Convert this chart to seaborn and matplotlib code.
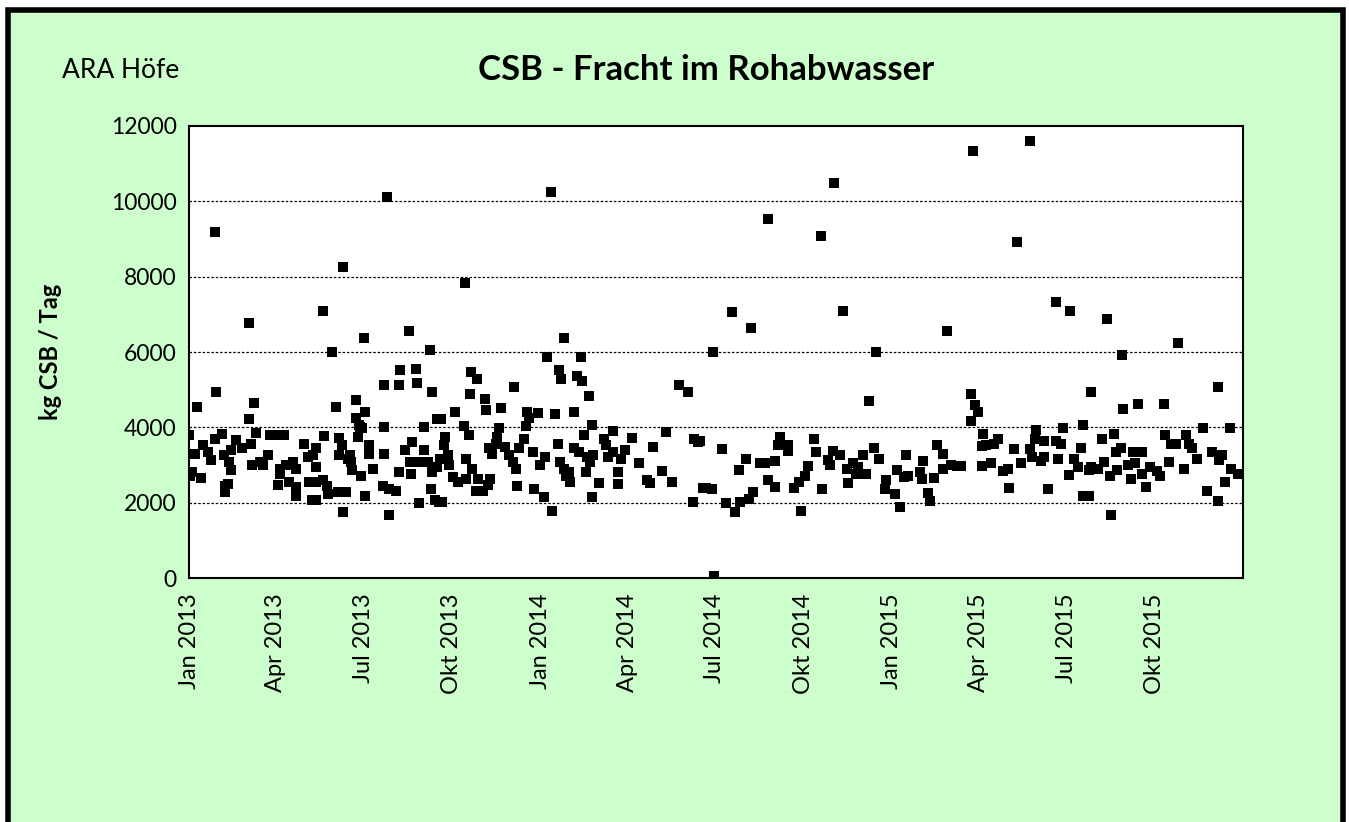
import numpy as np
import pandas as pd
import seaborn as sns
import matplotlib.pyplot as plt
import matplotlib.dates as mdates
from matplotlib.patches import Rectangle
from matplotlib.ticker import FuncFormatter

# days since 2013-01-01 and daily COD load (kg CSB / Tag)
days_2013a = [0, 1, 3, 6, 8, 12, 15, 20, 23, 27, 27, 28, 34, 36, 37, 37, 40, 42, 44, 44,
              49, 55, 62, 62, 64, 65, 68, 70, 74, 77, 82, 84, 92, 92, 94, 94, 99, 101,
              104, 108, 111, 111, 111, 119, 124, 125, 128]
load_2013a = [3800, 2720, 2810, 3300, 4550, 2660, 3530, 3350, 3130, 9180, 3700, 4950, 3810,
              3260, 2450, 2280, 2500, 3080, 3390, 2860, 3660, 3440, 6770, 4220, 3570, 3010,
              4640, 3840, 3080, 2990, 3260, 3800, 3800, 2470, 2900, 2770, 3800, 2990, 2550,
              3080, 2900, 2410, 2190, 3550, 3210, 2550, 2080]

days_2013b = [129, 132, 132, 132, 132, 139, 139, 140, 143, 144, 148, 153, 155, 156, 156,
              159, 160, 160, 163, 165, 167, 168, 169, 173, 173, 175, 177, 178, 179, 180,
              182, 183, 183, 187, 187, 191, 201, 202, 203, 203, 206, 208, 208, 215, 218,
              218, 219, 224, 228, 229, 231, 232, 236, 237, 239, 239, 244, 244, 248, 250,
              251, 252, 252, 255, 258, 258, 260]
load_2013b = [3260, 3440, 2950, 2545, 2080, 2590, 7100, 3770, 2455, 2230, 6000, 4545, 2280,
              3730, 3260, 3530, 8260, 1740, 2280, 3170, 3260, 3080, 2860, 4730, 4240, 3750,
              4060, 4020, 2720, 3970, 6380, 4420, 2190, 3530, 3300, 2900, 2455, 5130, 4000,
              3300, 10110, 2370, 1670, 2320, 5130, 2810, 5510, 3390, 6545, 3080, 2770, 3620,
              5540, 5180, 3080, 1990, 4000, 3390, 3080, 6045, 2370, 4930, 2810, 2080, 4220,
              2950, 2010]

days_2013c = [261, 262, 263, 265, 266, 269, 270, 274, 276, 279, 286, 287, 288, 288, 291,
              292, 293, 294, 298, 299, 300, 305, 307, 308, 310, 312, 313, 315, 319, 320,
              322, 324, 328, 332, 336, 338, 340, 341, 343, 348, 350, 351, 353, 357, 358,
              362, 364, 369, 370, 372, 376, 377, 380, 383, 384, 385, 386, 389, 389, 392]
load_2013c = [3170, 4220, 2030, 3530, 3750, 3260, 2990, 2680, 4420, 2545, 4040, 7830, 3170,
              2630, 3800, 4880, 5460, 2900, 2320, 5270, 2630, 2320, 4750, 4460, 2460, 3440,
              2630, 3300, 3570, 3750, 3990, 4510, 3480, 3260, 3080, 5060, 2900, 2455, 3440,
              3700, 4040, 4420, 4240, 3350, 2370, 4380, 2990, 2140, 3210, 5870, 10250, 1790,
              4350, 3545, 5510, 3080, 5270, 6380, 2900, 2720]

days_2014a = [395, 396, 400, 400, 403, 405, 407, 408, 410, 412, 413, 415, 416, 418, 419,
              420, 426, 431, 433, 435, 440, 440, 445, 446, 449, 453, 460, 467, 476, 479,
              482, 491, 495, 502, 509, 518, 523, 524, 529, 531, 534]
load_2014a = [2810, 2545, 4420, 3440, 5360, 3350, 5870, 5240, 3800, 2810, 3210, 4820, 3080,
              2140, 4060, 3260, 2520, 3700, 3530, 3210, 3900, 3350, 2500, 2810, 3170, 3390,
              3720, 3050, 2590, 2530, 3490, 2830, 3870, 2545, 5130, 4950, 2010, 3700, 3620,
              3630, 2380]

days_2014b = [537, 543, 544, 545, 553, 558, 564, 567, 571, 572, 578, 581, 584, 586, 593,
              598, 601, 601, 608, 608, 612, 614, 622, 622, 628, 633, 636, 640, 643, 649,
              651, 656, 657, 664, 666]
load_2014b = [2380, 2350, 6000, 50, 3420, 1990, 7060, 1740, 2860, 2010, 3170, 2100, 6630,
              2280, 3040, 3040, 9530, 2590, 3100, 2410, 3530, 3750, 3530, 3370, 2380, 2545,
              1790, 2720, 2970, 3700, 3350, 9080, 2350, 3140, 2990]

days_2014c = [669, 670, 676, 679, 683, 684, 689, 693, 695, 700, 703, 706, 711, 713, 716,
              723, 724, 733, 735, 738, 742, 745, 747, 759, 761, 762, 767, 769, 774, 777,
              783, 783, 787, 791, 798]
load_2014c = [3370, 10490, 3260, 7100, 2900, 2530, 3040, 2770, 2950, 3260, 2770, 4690, 3440,
              6000, 3150, 2370, 2590, 2230, 2860, 1880, 2680, 3260, 2720, 2810, 2620, 3110,
              2260, 2040, 2660, 3530, 3300, 2900, 6560, 2990, 2970]

days_2015a = [802, 812, 812, 814, 816, 819, 823, 823, 825, 828, 833, 836, 840, 845, 850,
              851, 857, 860, 864, 873, 873, 875, 878, 880, 885, 888, 888, 892, 900, 900,
              902, 906, 908, 914, 915, 919, 923, 926, 928, 928, 935, 935, 937]
load_2015a = [2970, 4880, 4170, 11340, 4580, 4420, 3510, 2970, 3810, 3530, 3040, 3545, 3700,
              2830, 2900, 2380, 3420, 8910, 3040, 11590, 3420, 3210, 3700, 3930, 3100, 3640,
              3210, 2370, 3630, 7330, 3170, 3545, 3970, 2740, 7090, 3170, 2950, 3460, 4060,
              2190, 2860, 2190, 4950]

days_2015b = [937, 944, 948, 950, 953, 956, 957, 961, 963, 964, 968, 969, 970, 975, 978,
              980, 982, 985, 990, 990, 994, 998, 1005, 1008, 1012, 1013, 1018, 1020, 1025,
              1027, 1033, 1035, 1038, 1042, 1047, 1053, 1057, 1062, 1069, 1069, 1070, 1073,
              1076, 1081, 1082, 1089]
load_2015b = [2950, 2900, 3690, 3080, 6880, 2720, 1670, 3830, 3350, 2860, 3440, 5920, 4480,
              2990, 2630, 3350, 3040, 4620, 3350, 2770, 2410, 2950, 2830, 2720, 4620, 3800,
              3080, 3570, 3570, 6230, 2900, 3800, 3570, 3440, 3170, 3970, 2320, 3350, 5060,
              2040, 3130, 3260, 2545, 3970, 2900, 2770]

days = days_2013a + days_2013b + days_2013c + days_2014a + days_2014b + days_2014c + days_2015a + days_2015b
load = load_2013a + load_2013b + load_2013c + load_2014a + load_2014b + load_2014c + load_2015a + load_2015b

df = pd.DataFrame({
    "datum": pd.Timestamp("2013-01-01") + pd.to_timedelta(days, unit="D"),
    "csb": load,
})

month_de = {1: "Jan", 4: "Apr", 7: "Jul", 10: "Okt"}
y_ticks = [0, 2000, 4000, 6000, 8000, 10000, 12000]

sns.set_style("white")
plt.rcParams["font.family"] = ["Lato", "DejaVu Sans"]
plt.rcParams["text.color"] = "black"
plt.rcParams["xtick.color"] = "black"
plt.rcParams["ytick.color"] = "black"

fig = plt.figure(figsize=(13.49, 8.22), dpi=100)
fig.patch.set_facecolor("white")
# green frame behind everything
fig.patches.append(Rectangle((8 / 1349, -0.05), 1335 / 1349, 1.05 - 10 / 822,
                             transform=fig.transFigure, facecolor="#CCFFCC",
                             edgecolor="black", linewidth=4, zorder=-10))

ax = fig.add_axes([189 / 1349, 1 - 578 / 822, 1054 / 1349, 452 / 822])
ax.set_zorder(1)
ax.set_facecolor("white")

sns.scatterplot(data=df, x="datum", y="csb", marker="s", color="black", s=52,
                edgecolor="black", linewidth=0, ax=ax, zorder=3)

ax.set_xlim(pd.Timestamp("2013-01-01"), pd.Timestamp("2015-12-31 12:00"))
ax.set_ylim(0, 12000)
ax.set_yticks(y_ticks)

ax.xaxis.set_major_locator(mdates.MonthLocator(bymonth=[1, 4, 7, 10]))
ax.xaxis.set_major_formatter(FuncFormatter(
    lambda v, p: f"{month_de[mdates.num2date(v).month]} {mdates.num2date(v).year}"))
ax.xaxis.set_minor_locator(mdates.YearLocator())
ax.grid(False)
ax.grid(which="minor", axis="x", color="#BBBBBB", linewidth=1)
for v in y_ticks[1:-1]:
    ax.axhline(v, color="black", linestyle=(0, (2, 1.5)), linewidth=0.9, zorder=1)

ax.tick_params(axis="x", which="major", direction="out", length=7, width=1.2,
               labelsize=17, rotation=90, pad=4, color="black", labelcolor="black")
ax.tick_params(axis="x", which="minor", length=0)
ax.tick_params(axis="y", direction="out", length=7, width=1.2, labelsize=16.5, pad=2,
               color="black", labelcolor="black")
plt.setp(ax.get_xticklabels(), va="top", ha="center")

for s in ax.spines.values():
    s.set_color("black")
    s.set_linewidth(1.5)

ax.set_xlabel("")
ax.set_ylabel("")
fig.text(50 / 1349, 1 - 352 / 822, "kg CSB / Tag", rotation=90, ha="center", va="center",
         fontsize=17, fontweight="bold")
fig.text(706 / 1349, 1 - 70 / 822, "CSB - Fracht im Rohabwasser", ha="center", va="center",
         fontsize=25, fontweight="bold")
fig.text(62 / 1349, 1 - 70 / 822, "ARA Höfe", ha="left", va="center", fontsize=19)

fig.savefig("out.png", dpi=100, facecolor=fig.get_facecolor())
